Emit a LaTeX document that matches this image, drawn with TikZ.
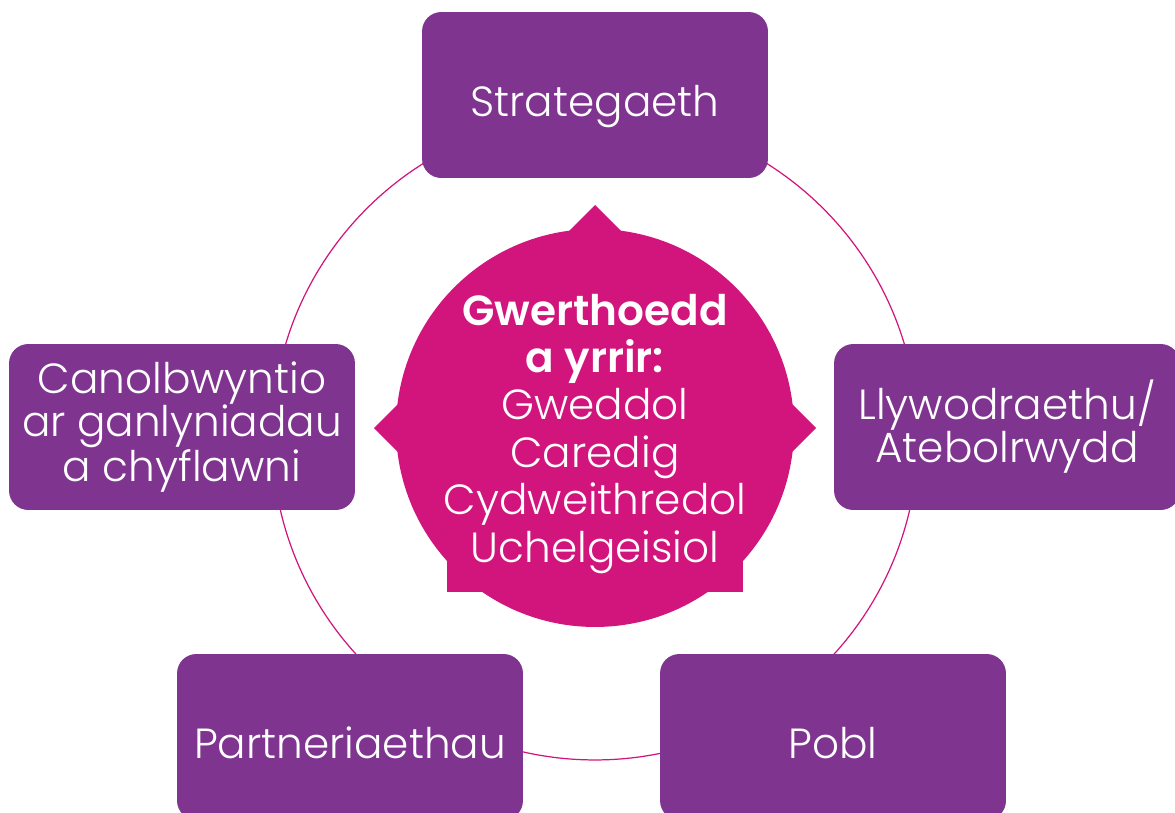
\documentclass[tikz,border=0pt]{standalone}
\usepackage{fontspec}
\setmainfont{Poppins}[UprightFont=* Light, BoldFont=* SemiBold]
\definecolor{pillarpurple}{HTML}{7F3590}
\definecolor{hubmagenta}{HTML}{D1157D}
\begin{document}
\begin{tikzpicture}[x=0.02cm,y=-0.02cm,inner sep=0pt,outer sep=0pt,
pillar/.style={fill=pillarpurple,rounded corners=11pt,minimum width=6.92cm,minimum height=3.32cm,text=white,align=center,font=\fontsize{24}{24.4}\selectfont},
oneline/.style={text height=24pt,text depth=0pt},
hub/.style={fill=hubmagenta,circle,minimum size=7.96cm},
hubtext/.style={text=white,align=center,text depth=0pt,font=\fontsize{24}{27}\selectfont},
ring/.style={draw=hubmagenta,line width=0.7pt}]
\useasboundingbox (0,0) rectangle (1175,812);
\draw[ring] (595,437) circle (6.46cm);
\coordinate (hubc) at (595,428);
% five tips of the hub
\fill[hubmagenta] (hubc) ++(0,-223) -- ++(40,40) -- ++(-40,40) -- ++(-40,-40) -- cycle;
\fill[hubmagenta] (hubc) ++(-221,0) -- ++(40,-40) -- ++(40,40) -- ++(-40,40) -- cycle;
\fill[hubmagenta] (hubc) ++(221,0) -- ++(-40,-40) -- ++(-40,40) -- ++(40,40) -- cycle;
\fill[hubmagenta] (hubc) ++(-148,164) rectangle ++(50,-50);
\fill[hubmagenta] (hubc) ++(148,164) rectangle ++(-50,-50);
\draw (hubc) node[hub] (core) {};
\draw (core.center) node[hubtext] (values) {\textbf{Gwerthoedd}\\\textbf{a yrrir:}\\Gweddol\\Caredig\\Cydweithredol\\Uchelgeisiol};
\draw (595,95) node[pillar,oneline] (strat) {Strategaeth};
\draw (182,427) node[pillar] (focus) {Canolbwyntio\\ar ganlyniadau\\a chyflawni};
\draw (1007,427) node[pillar] (gov) {Llywodraethu/\\Atebolrwydd};
\draw (350,737) node[pillar,oneline] (part) {Partneriaethau};
\draw (833,737) node[pillar,oneline] (people) {Pobl};
\end{tikzpicture}
\end{document}
